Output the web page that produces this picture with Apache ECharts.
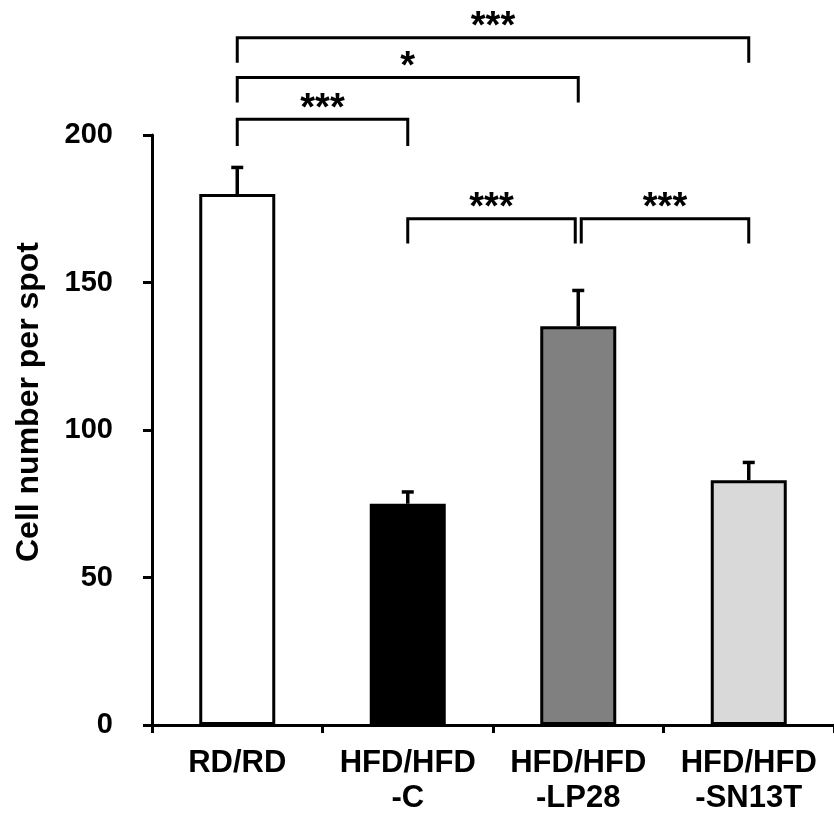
<!DOCTYPE html>
<html><head><meta charset="utf-8">
<script src="https://cdn.jsdelivr.net/npm/echarts@6/dist/echarts.min.js"></script>
<style>html,body{margin:0;padding:0;background:#fff}#c{width:834px;height:816px}</style>
</head><body><div id="c"></div>
<script>
const categories = ['RD/RD', 'HFD/HFD\n-C', 'HFD/HFD\n-LP28', 'HFD/HFD\n-SN13T'];
const values = [180, 75, 135.2, 83];
const errors = [9, 4, 12.1, 6];
const barColors = ['#ffffff', '#000000', '#808080', '#d9d9d9'];
const yTicks = [0, 50, 100, 150, 200];
// significance brackets: [from category, to category, bracket level, leg bottom, label]
const bracketFrom = [0, 0, 0, 1, 2];
const bracketTo = [3, 2, 1, 2, 3];
const bracketLevel = [233, 219.5, 205.3, 171.6, 171.6];
const bracketLegEnd = [224.5, 211, 196.3, 163.2, 163.2];
const bracketLabel = ['***', '*', '***', '***', '***'];

const FONT = '"Liberation Sans", Arial, sans-serif';
const chart = echarts.init(document.getElementById('c'), null, {renderer: 'canvas'});
chart.setOption({
  animation: false,
  backgroundColor: '#fff',
  grid: {left: 152, right: -7, top: 135, bottom: 89, containLabel: false},
  xAxis: {
    type: 'category', data: categories,
    axisLine: {lineStyle: {color: '#000', width: 3}},
    axisTick: {show: true, inside: false, length: 8, lineStyle: {color: '#000', width: 3}},
    axisLabel: {color: '#000', fontFamily: FONT, fontWeight: 'bold', fontSize: 31, lineHeight: 35, margin: 21, interval: 0}
  },
  yAxis: {
    type: 'value', min: yTicks[0], max: yTicks[yTicks.length - 1], interval: 50,
    name: 'Cell number per spot', nameLocation: 'middle', nameGap: 107, nameRotate: 90,
    nameTextStyle: {color: '#000', fontFamily: FONT, fontWeight: 'bold', fontSize: 32, padding: [0, 0, 0, 56]},
    splitLine: {show: false},
    axisLine: {show: true, lineStyle: {color: '#000', width: 3}},
    axisTick: {show: true, inside: false, length: 9, lineStyle: {color: '#000', width: 3}},
    axisLabel: {color: '#000', fontFamily: FONT, fontWeight: 'bold', fontSize: 29, margin: 39}
  },
  series: [
    {
      type: 'bar', barWidth: 76, z: 2,
      data: values.map((v, i) => ({value: v, itemStyle: {color: barColors[i], borderColor: '#000', borderWidth: 3}}))
    },
    {
      type: 'custom', z: 3, clip: false,
      data: values.map((v, i) => [i, v, errors[i]]),
      renderItem: function (params, api) {
        const i = api.value(0), v = api.value(1), e = api.value(2);
        const p1 = api.coord([i, v]), p2 = api.coord([i, v + e]);
        const st = {stroke: '#000', lineWidth: 3.5};
        return {type: 'group', children: [
          {type: 'line', shape: {x1: p1[0], y1: p1[1], x2: p2[0], y2: p2[1]}, style: st},
          {type: 'line', shape: {x1: p2[0] - 6, y1: p2[1], x2: p2[0] + 6, y2: p2[1]}, style: st}
        ]};
      }
    },
    {
      type: 'custom', z: 4, clip: false,
      data: bracketFrom.map((f, k) => [f, bracketTo[k], bracketLevel[k], bracketLegEnd[k]]),
      renderItem: function (params, api) {
        const k = params.dataIndex;
        const f = api.value(0), t = api.value(1), lv = api.value(2), le = api.value(3);
        const a = api.coord([f, lv]), b = api.coord([t, lv]);
        const a2 = api.coord([f, le]), b2 = api.coord([t, le]);
        let xa = a[0], xb = b[0];
        if (k === 3) xb -= 3;
        if (k === 4) xa += 3;
        const st = {stroke: '#000', lineWidth: 3, fill: null};
        return {type: 'group', children: [
          {type: 'polyline', shape: {points: [[xa, a2[1]], [xa, a[1]], [xb, b[1]], [xb, b2[1]]]}, style: st},
          {type: 'text', style: {text: bracketLabel[k], x: (xa + xb) / 2, y: a[1] - 10, textAlign: 'center', textVerticalAlign: 'middle',
            fill: '#000', font: 'bold 38px ' + FONT}}
        ]};
      }
    }
  ]
});
</script></body></html>
